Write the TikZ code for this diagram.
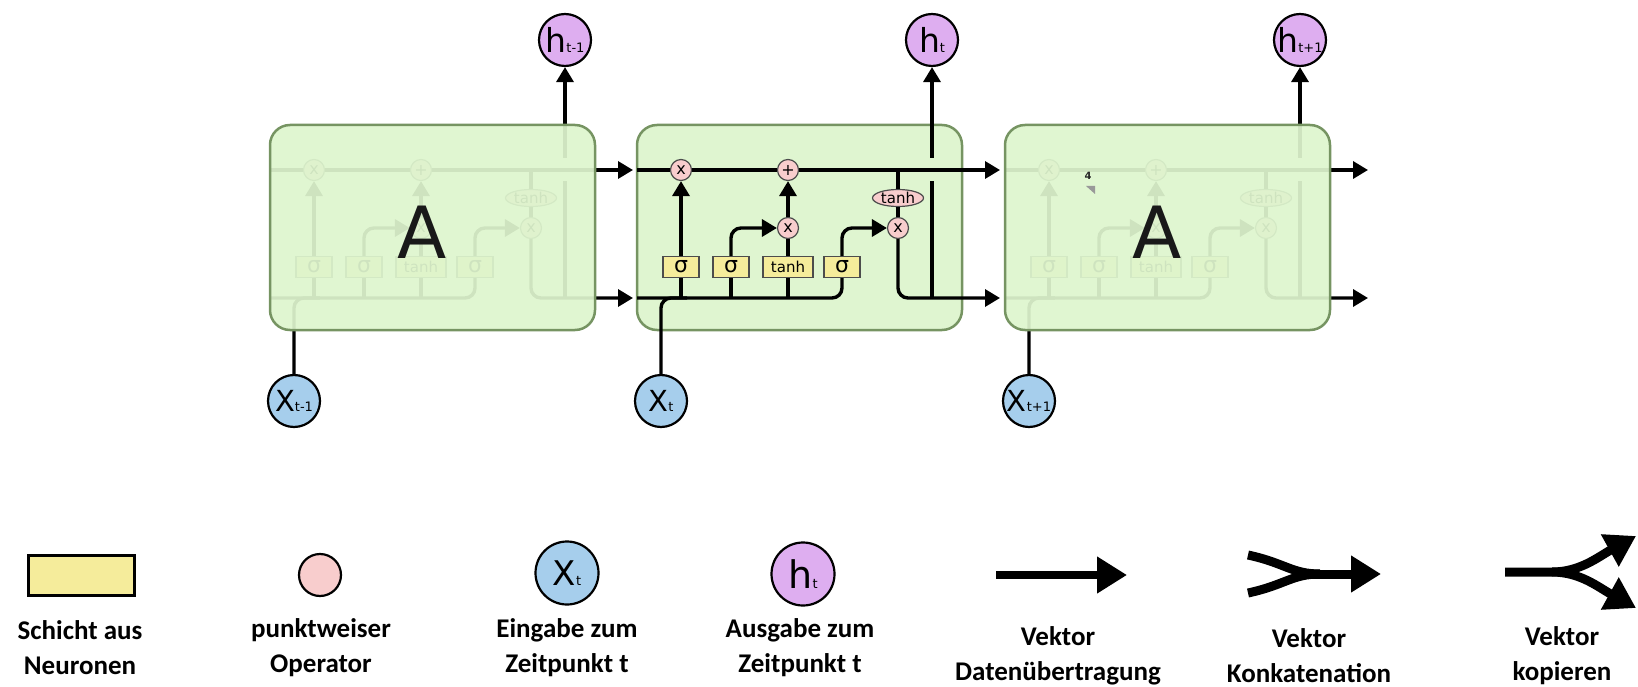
\documentclass[tikz,border=0pt]{standalone}
\usepackage{fontspec}
\setmainfont{DejaVu Sans}
\newfontfamily\legfont{Carlito}
\usetikzlibrary{arrows.meta,shapes.geometric}
\definecolor{cellfill}{RGB}{223,245,208}
\definecolor{sidefill}{RGB}{222,245,206}
\definecolor{cellborder}{RGB}{118,148,98}
\definecolor{opfill}{RGB}{248,205,205}
\definecolor{layerfill}{RGB}{245,236,155}
\definecolor{xfill}{RGB}{166,206,236}
\definecolor{hfill}{RGB}{222,174,240}
\newcommand{\XHlab}[3]{{\fontsize{#3}{#3}\selectfont #1}{\fontsize{13}{13}\selectfont #2}}
\tikzset{
  wire/.style={line width=3.4pt, draw=black},
  arr/.style={-{Triangle[length=15pt,width=17pt]}},
  op/.style={circle, draw=black!70, line width=1.2pt, fill=opfill, minimum size=21pt, inner sep=0pt, font=\fontsize{16}{16}\selectfont},
  opel/.style={ellipse, draw=black!70, line width=1.2pt, fill=opfill, minimum width=51pt, minimum height=17pt, inner sep=0pt, font=\fontsize{15}{15}\selectfont},
  layer/.style={rectangle, draw=black!70, line width=1.2pt, fill=layerfill, minimum width=36pt, minimum height=21pt, inner sep=0pt, font=\fontsize{22}{22}\selectfont},
  xin/.style={circle, draw=black, line width=2.2pt, fill=xfill, minimum size=52pt, inner sep=0pt},
  hout/.style={circle, draw=black, line width=2.2pt, fill=hfill, minimum size=52pt, inner sep=0pt},
  cellbox/.style={draw=cellborder, line width=2.5pt, rounded corners=20pt},
  bigA/.style={font=\fontsize{72}{72}\selectfont, text=black!90},
  leg/.style={align=center, font=\legfont\bfseries\fontsize{27}{35}\selectfont},
  legw/.style={line width=9pt, draw=black},
  legarr/.style={-{Triangle[length=30pt,width=35pt]}},
}
\newcommand{\LSTMparts}[2]{%
\begin{scope}[shift={(#2,0)}]
\coordinate (#1tl) at (0,170);
\coordinate (#1bl) at (0,298);
\coordinate (#1tr) at (363,170);
\coordinate (#1br) at (363,298);
\coordinate (#1hb) at (295,298);
\coordinate (#1hg) at (295,181);
\coordinate (#1hu) at (295,158);
\coordinate (#1xj) at (50,298);
\node[op] (#1x1) at (44,170) {x};
\node[op] (#1pl) at (151,170) {+};
\node[op] (#1mx) at (151,228) {x};
\node[op] (#1ox) at (261,228) {x};
\node[opel] (#1te) at (261,198) {tanh};
\node[layer] (#1s1) at (44,267) {σ};
\node[layer] (#1s2) at (94,267) {σ};
\node[layer, minimum width=50pt, font=\fontsize{15}{15}\selectfont] (#1tb) at (151,267) {tanh};
\node[layer] (#1s4) at (205,267) {σ};
\end{scope}
\draw[wire] (#1tl) -- (#1x1);
\draw[wire] (#1x1) -- (#1pl);
\draw[wire,arr] (#1pl) -- (#1tr);
\draw[wire] (#1te.north) -- (#1te.north |- #1tl);
\draw[wire] (#1te) -- (#1ox);
\draw[wire,arr,rounded corners=10pt] (#1ox.south) |- (#1br);
\draw[wire] (#1hb) -- (#1hg);
\draw[wire,arr] (#1hu) -- (#1h.south);
\draw[wire,rounded corners=10pt] (#1bl) -| (#1s4.south);
\draw[wire,rounded corners=10pt] (#1xin.north) |- (#1xj);
\draw[wire] (#1s1.south) -- (#1s1.south |- #1bl);
\draw[wire] (#1s2.south) -- (#1s2.south |- #1bl);
\draw[wire] (#1tb.south) -- (#1tb.south |- #1bl);
\draw[wire,arr] (#1s1) -- (#1x1);
\draw[wire,arr,rounded corners=10pt] (#1s2.north) |- (#1mx.west);
\draw[wire] (#1tb) -- (#1mx);
\draw[wire,arr] (#1mx) -- (#1pl);
\draw[wire,arr,rounded corners=10pt] (#1s4.north) |- (#1ox.west);
}
\begin{document}
\begin{tikzpicture}[x=1pt,y=-1pt]
\path[use as bounding box] (0,0) rectangle (1638,687);
% inputs and outputs
\node[hout] (lh) at (565,40) {\XHlab{h}{t-1}{33}};
\node[hout] (mh) at (932,40) {\XHlab{h}{t}{33}};
\node[hout] (rh) at (1300,40) {\XHlab{h}{t+1}{33}};
\node[xin] (lxin) at (294,401) {\XHlab{X}{t-1}{29}};
\node[xin] (mxin) at (661,401) {\XHlab{X}{t}{29}};
\node[xin] (rxin) at (1029,401) {\XHlab{X}{t+1}{29}};
% middle cell
\path[cellbox, fill=cellfill] (637,125) rectangle (962,330);
\LSTMparts{m}{637}
% left cell (faded)
\LSTMparts{l}{270}
\path[cellbox, fill=sidefill, fill opacity=0.93] (270,125) rectangle (595,330);
\node[bigA] (lA) at (422,232) {A};
% right cell (faded)
\LSTMparts{r}{1005}
\path[cellbox, fill=sidefill, fill opacity=0.93] (1005,125) rectangle (1330,330);
\node[bigA] (rA) at (1157,232) {A};
\node[font=\bfseries\fontsize{10}{10}\selectfont, text=black!85] (art) at (1088,176) {4};
\fill[black!40] (1086,186) -- (1095,186) -- (1095,194) -- cycle;
% legend
\node[rectangle, draw=black, line width=3pt, fill=layerfill, minimum width=106pt, minimum height=40pt] (lgl) at (81,575) {};
\node[circle, draw=black, line width=2.2pt, fill=opfill, minimum size=42pt, inner sep=0pt] (lgo) at (320,575) {};
\node[xin, minimum size=63pt] (lgx) at (567,573) {\XHlab{X}{t}{34}};
\node[hout, minimum size=63pt] (lgh) at (803,574) {\XHlab{h}{t}{38}};
\coordinate (la0) at (996,575);
\coordinate (la1) at (1127,575);
\draw[line width=8pt, legarr] (la0) -- (la1);
\coordinate (lk1) at (1248,555);
\coordinate (lk2) at (1248,593);
\coordinate (lkm) at (1320,574);
\coordinate (lkm0) at (1310,574);
\coordinate (lke) at (1381,574);
\draw[legw] (lk1) .. controls (1285,563) and (1292,574) .. (lkm);
\draw[legw] (lk2) .. controls (1285,585) and (1292,574) .. (lkm);
\draw[legw, legarr] (lkm0) -- (lke);
\coordinate (lc0) at (1505,572);
\coordinate (lcs) at (1552,572);
\coordinate (lcu) at (1636,536);
\coordinate (lcd) at (1636,608);
\draw[legw, legarr] (lc0) -- (lcs) .. controls (1580,572) and (1598,557) .. (lcu);
\draw[legw, legarr] (lcs) .. controls (1580,572) and (1598,587) .. (lcd);
\node[leg] (t1) at (80,648) {Schicht aus\\Neuronen};
\node[leg] (t2) at (321,648) {punktweiser\\Operator};
\node[leg] (t3) at (567,648) {Eingabe zum\\Zeitpunkt t};
\node[leg] (t4) at (800,648) {Ausgabe zum\\Zeitpunkt t};
\node[leg] (t5) at (1058,656) {Vektor\\Datenübertragung};
\node[leg] (t6) at (1309,656) {Vektor\\Konkatenation};
\node[leg] (t7) at (1562,656) {Vektor\\kopieren};
\end{tikzpicture}
\end{document}
